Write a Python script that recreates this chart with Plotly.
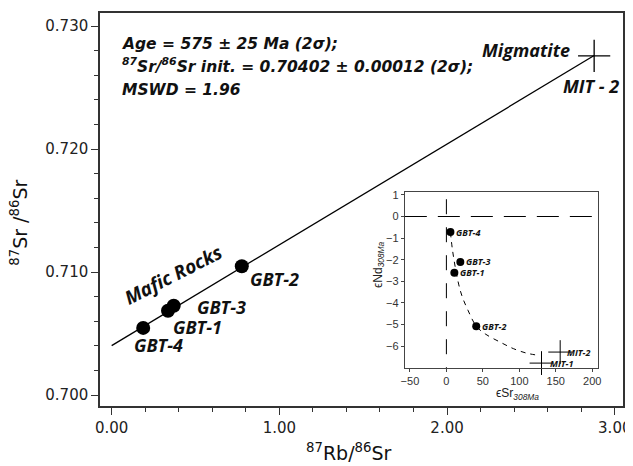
import plotly.graph_objects as go

# ---------------- data ----------------
# main isochron diagram
samples = ["GBT-4", "GBT-1", "GBT-3", "GBT-2"]
rb_sr = [0.188, 0.336, 0.370, 0.776]
sr_sr = [0.70546, 0.70685, 0.70726, 0.71048]
mig_name = "MIT - 2"
mig_rb_sr = [2.877]
mig_sr_sr = [0.72758]
iso_x = [0.0, 2.877]
iso_y = [0.70402, 0.72761]
x_ticks = [0.0, 1.0, 2.0, 3.0]
x_ticklabels = ["0.00", "1.00", "2.00", "3.00"]
y_ticks = [0.700, 0.710, 0.720, 0.730]
y_ticklabels = ["0.700", "0.710", "0.720", "0.730"]

# inset eSr - eNd diagram
inset_samples = ["GBT-4", "GBT-3", "GBT-1", "GBT-2"]
esr = [5.5, 19.1, 10.9, 40.9]
end = [-0.72, -2.10, -2.60, -5.07]
mit_names = ["MIT-2", "MIT-1"]
mit_esr = [156, 130.4]
mit_end = [-6.27, -6.78]
mix_x = [5.5, 8.6, 15.8, 21.3, 29.5, 40.9, 53.2, 73.7, 91.8, 110, 126]
mix_y = [-0.72, -1.61, -2.98, -3.67, -4.33, -5.07, -5.43, -5.81, -6.11, -6.32, -6.42]
inset_xticks = [-50, 0, 50, 100, 150, 200]
inset_yticks = [1, 0, -1, -2, -3, -4, -5, -6]

# ---------------- figure ----------------
OFF = 8  # page body margin
W, H = 633 - OFF, 466 - OFF
ML, MR, MT, MB = 100 - OFF, 8, 10 - OFF, 60
PW, PH = W - ML - MR, H - MT - MB


def px(x):  # page pixel -> paper
    return (x - OFF - ML) / PW


def py(y):
    return (H - MB - (y - OFF)) / PH


fig = go.Figure()

fig.add_trace(go.Scatter(x=iso_x, y=iso_y, mode="lines",
                         line=dict(color="black", width=1.3),
                         hoverinfo="skip", showlegend=False))
fig.add_trace(go.Scatter(x=rb_sr, y=sr_sr, mode="markers",
                         marker=dict(color="black", size=14),
                         showlegend=False))
fig.add_trace(go.Scatter(x=mig_rb_sr, y=mig_sr_sr, mode="markers",
                         marker=dict(symbol="cross-thin", size=23,
                                     line=dict(color="black", width=1.3)),
                         showlegend=False))

# inset
fig.add_trace(go.Scatter(x=mix_x, y=mix_y, mode="lines", xaxis="x2", yaxis="y2",
                         line=dict(color="black", width=1, dash="5px,5px", shape="spline"),
                         hoverinfo="skip", showlegend=False))
fig.add_trace(go.Scatter(x=esr, y=end, mode="markers", xaxis="x2", yaxis="y2",
                         marker=dict(color="black", size=8), showlegend=False))
fig.add_trace(go.Scatter(x=mit_esr, y=mit_end, mode="markers", xaxis="x2", yaxis="y2",
                         marker=dict(symbol="cross-thin", size=17,
                                     line=dict(color="black", width=1)),
                         cliponaxis=False, showlegend=False))

fig.add_shape(type="line", xref="x2 domain", yref="y2", x0=0, x1=1, y0=0, y1=0,
              line=dict(color="black", width=1, dash="22px,11px"))
fig.add_shape(type="line", xref="x2", yref="y2", x0=0, x1=0, y0=0.8, y1=-7.02,
              line=dict(color="black", width=1, dash="15px,13px"))

lab_font = dict(family="Open Sans", size=18, color="#111", weight="bold", style="italic")
shifts = {"GBT-4": (15, -17), "GBT-1": (29, -16), "GBT-3": (48, -1), "GBT-2": (33, -13)}
ann = []
for n, xv, yv in zip(samples, rb_sr, sr_sr):
    dx, dy = shifts[n]
    ann.append(dict(x=xv, y=yv, xref="x", yref="y", text=n, showarrow=False,
                    xanchor="center", yanchor="middle",
                    xshift=dx, yshift=dy, font=lab_font))
ann.append(dict(x=mig_rb_sr[0], y=mig_sr_sr[0], xref="x", yref="y", text="Migmatite",
                xanchor="center", yanchor="middle",
                showarrow=False, xshift=-68, yshift=6, font=lab_font))
ann.append(dict(x=mig_rb_sr[0], y=mig_sr_sr[0], xref="x", yref="y", text=mig_name,
                xanchor="center", yanchor="middle",
                showarrow=False, xshift=-3, yshift=-30, font=lab_font))
ann.append(dict(x=px(173.3), y=py(274), xref="paper", yref="paper", text="Mafic Rocks",
                xanchor="center", yanchor="middle",
                showarrow=False, textangle=-27,
                font=dict(family="Open Sans", size=19, color="#111", weight="bold",
                          style="italic")))

txt_font = dict(family="DejaVu Sans", size=15.5, color="#111", weight="bold", style="italic")
lines = ["Age = 575 ± 25 Ma (2σ);",
         "<sup>87</sup>Sr/<sup>86</sup>Sr init. = 0.70402 ± 0.00012 (2σ);",
         "MSWD = 1.96"]
for t, yy in zip(lines, [41.7, 63.3, 87.7]):
    ann.append(dict(x=px(120), y=py(yy), xref="paper", yref="paper", text=t,
                    showarrow=False, xanchor="left", yanchor="middle", font=txt_font))

# axis titles
title_font = dict(family="DejaVu Sans", size=19, color="#111")
ann.append(dict(x=px(350), y=py(452), xref="paper", yref="paper",
                xanchor="center", yanchor="middle",
                text="<sup>87</sup>Rb/<sup>86</sup>Sr", showarrow=False, font=title_font))
ann.append(dict(x=px(19), y=py(221), xref="paper", yref="paper", textangle=-90,
                xanchor="center", yanchor="middle",
                text="<sup>87</sup>Sr /<sup>86</sup>Sr", showarrow=False, font=title_font))

# inset labels
small_font = dict(family="Open Sans", size=9, color="#111", style="italic", weight="bold")
for n, xv, yv in zip(inset_samples, esr, end):
    ann.append(dict(x=xv, y=yv, xref="x2", yref="y2", text=n, showarrow=False,
                    xanchor="left", yanchor="middle", xshift=4, font=small_font))
for n, xv, yv, dx in zip(mit_names, mit_esr, mit_end, [5, 6]):
    ann.append(dict(x=xv, y=yv, xref="x2", yref="y2", text=n, showarrow=False,
                    xanchor="left", yanchor="middle", xshift=dx, font=small_font))
inset_title_font = dict(family="Liberation Sans", size=12, color="#222")
ann.append(dict(x=px(519), y=py(394), xref="paper", yref="paper",
                xanchor="center", yanchor="middle",
                text="ϵSr<sub><i>308Ma</i></sub>", showarrow=False, font=inset_title_font))
ann.append(dict(x=px(380), y=py(263), xref="paper", yref="paper", textangle=-90,
                xanchor="center", yanchor="middle",
                text="ϵNd<sub><i>308Ma</i></sub>", showarrow=False, font=inset_title_font))

fig.update_layout(
    width=W, height=H,
    margin=dict(l=ML, r=MR, t=MT, b=MB),
    paper_bgcolor="white", plot_bgcolor="white",
    showlegend=False,
    annotations=ann,
    xaxis=dict(range=[-0.0695, 3.049], tickvals=x_ticks, ticktext=x_ticklabels,
               showgrid=False, zeroline=False, showline=True, mirror=True,
               linecolor="#333", linewidth=1.5, ticks="outside", ticklen=7, tickwidth=1,
               tickcolor="#333", ticklabeloverflow="allow",
               tickfont=dict(family="DejaVu Sans", size=15, color="#222"),
               minor=dict(ticks="outside", ticklen=4, dtick=0.2, tickcolor="#333",
                          showgrid=False)),
    yaxis=dict(range=[0.69911, 0.73107], tickvals=y_ticks, ticktext=y_ticklabels,
               showgrid=False, zeroline=False, showline=True, mirror=True,
               linecolor="#333", linewidth=1.5, ticks="outside", ticklen=7, tickwidth=1,
               tickcolor="#333", ticklabeloverflow="allow",
               tickfont=dict(family="DejaVu Sans", size=15, color="#222"),
               minor=dict(ticks="outside", ticklen=4, dtick=0.002, tickcolor="#333",
                          showgrid=False)),
    xaxis2=dict(domain=[px(406), px(600)], anchor="y2", range=[-57, 208],
                tickvals=inset_xticks, showgrid=False, zeroline=False,
                showline=True, mirror=True, linecolor="#444", linewidth=1,
                ticks="outside", ticklen=3, tickcolor="#444",
                tickfont=dict(family="Liberation Sans", size=11, color="#333")),
    yaxis2=dict(domain=[py(368), py(190)], anchor="x2", range=[-7.02, 1.15],
                tickvals=inset_yticks, showgrid=False, zeroline=False,
                showline=True, mirror=True, linecolor="#444", linewidth=1,
                ticks="outside", ticklen=3, tickcolor="#444",
                tickfont=dict(family="Liberation Sans", size=11, color="#333")),
)

fig.write_html("out.html")
